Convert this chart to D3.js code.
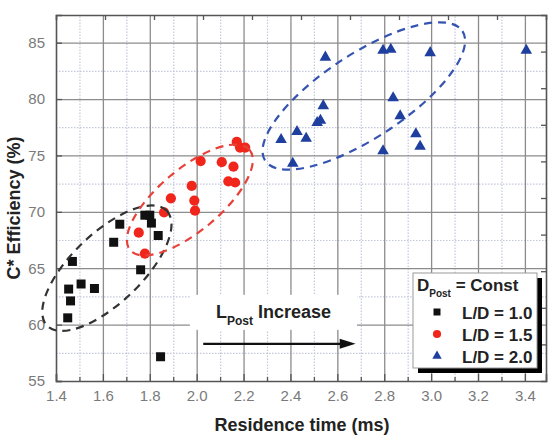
<!DOCTYPE html>
<html>
<head>
<meta charset="utf-8">
<script src="https://cdn.jsdelivr.net/npm/d3@7"></script>
<style>
  body { margin: 0; background: #fff; }
  svg { font-family: "Liberation Sans", Arial, sans-serif; }
</style>
</head>
<body>
<div class="chart"></div>
<script>
// L/D = 1.0 (squares)
const ld10Time = [1.47, 1.454, 1.507, 1.564, 1.462, 1.45, 1.646, 1.672, 1.779, 1.80, 1.807, 1.836, 1.761, 1.846];
const ld10Eff  = [65.6, 63.15, 63.6, 63.2, 62.1, 60.6, 67.3, 68.9, 69.7, 69.7, 69.0, 67.9, 64.86, 57.15];
// L/D = 1.5 (circles)
const ld15Time = [2.171, 2.185, 2.207, 2.017, 2.107, 2.157, 2.135, 2.164, 1.979, 1.89, 1.99, 1.993, 1.861, 1.753, 1.779];
const ld15Eff  = [76.2, 75.7, 75.7, 74.5, 74.4, 74.0, 72.7, 72.6, 72.3, 71.2, 71.0, 70.1, 69.95, 68.15, 66.3];
// L/D = 2.0 (triangles)
const ld20Time = [2.549, 2.795, 2.828, 2.996, 3.406, 2.54, 2.838, 2.528, 2.514, 2.868, 2.428, 2.36, 2.467, 2.935, 2.953, 2.41, 2.795];
const ld20Eff  = [83.7, 84.3, 84.4, 84.1, 84.3, 79.4, 80.1, 78.1, 77.9, 78.5, 77.1, 76.4, 76.5, 76.9, 75.8, 74.3, 75.4];

const xTicks = [1.4, 1.6, 1.8, 2.0, 2.2, 2.4, 2.6, 2.8, 3.0, 3.2, 3.4];
const xMinor = [1.5, 1.7, 1.9, 2.1, 2.3, 2.5, 2.7, 2.9, 3.1, 3.3];
const yTicks = [55, 60, 65, 70, 75, 80, 85];
const yMinor = [57.5, 62.5, 67.5, 72.5, 77.5, 82.5, 87.5];

const seriesNames = ["L/D = 1.0", "L/D = 1.5", "L/D = 2.0"];
const seriesColors = ["#111111", "#f0261c", "#1f3f9f"];

// dashed groupings: centre (data), semi axes (px), rotation (deg)
const groupCx = [1.617, 1.971, 2.713];
const groupCy = [65.0, 71.05, 80.27];
const groupRx = [83, 78, 118];
const groupRy = [35, 31, 42];
const groupAngle = [-43.8, -40, -33.3];
const groupColors = ["#333333", "#e8413a", "#3553b0"];

const series = [
  {name: seriesNames[0], sym: d3.symbolSquare, size: 81, legendSize: 49,
   points: ld10Time.map((t, i) => ({t: t, e: ld10Eff[i]}))},
  {name: seriesNames[1], sym: d3.symbolCircle, size: 82, legendSize: 52,
   points: ld15Time.map((t, i) => ({t: t, e: ld15Eff[i]}))},
  {name: seriesNames[2], sym: d3.symbolTriangle, size: 58, legendSize: 38,
   points: ld20Time.map((t, i) => ({t: t, e: ld20Eff[i]}))}
];

const totalWidth = 550;
const totalHeight = 438;
const margin = {top: 15, right: 4, bottom: 57, left: 56};
const width = totalWidth - margin.left - margin.right;
const height = totalHeight - margin.top - margin.bottom;

const svg = d3.select(".chart")
  .append("svg")
  .attr("width", totalWidth)
  .attr("height", totalHeight);

const g = svg.append("g")
  .attr("transform", "translate(" + margin.left + "," + margin.top + ")");

const x = d3.scaleLinear().domain([1.4, 3.49]).range([0, width]);
const y = d3.scaleLinear().domain([55, 87.45]).range([height, 0]);

// minor grid (dotted)
g.append("g")
  .attr("transform", "translate(0," + height + ")")
  .call(d3.axisBottom(x).tickValues(xMinor).tickSize(-height).tickFormat(""))
  .call(a => a.select(".domain").remove())
  .selectAll("line")
  .attr("stroke", "#c4c8dc").attr("stroke-width", 1.2).attr("stroke-dasharray", "1.5,1.5");

g.append("g")
  .call(d3.axisLeft(y).tickValues(yMinor.filter(v => v < 87)).tickSize(-width).tickFormat(""))
  .call(a => a.select(".domain").remove())
  .selectAll("line")
  .attr("stroke", "#c4c8dc").attr("stroke-width", 1.2).attr("stroke-dasharray", "1.5,1.5");

// major grid
g.append("g")
  .attr("transform", "translate(0," + height + ")")
  .call(d3.axisBottom(x).tickValues(xTicks.slice(1)).tickSize(-height).tickFormat(""))
  .call(a => a.select(".domain").remove())
  .selectAll("line")
  .attr("stroke", "#8c8c8c").attr("stroke-width", 1.3);

g.append("g")
  .call(d3.axisLeft(y).tickValues(yTicks.slice(1)).tickSize(-width).tickFormat(""))
  .call(a => a.select(".domain").remove())
  .selectAll("line")
  .attr("stroke", "#8c8c8c").attr("stroke-width", 1.3);

// white patch behind the annotation
const note = g.append("g");
const noteText = note.append("text")
  .attr("x", x(2.082))
  .attr("y", y(60.6))
  .attr("font-size", "18px")
  .attr("font-weight", "bold")
  .attr("fill", "#222");
noteText.append("tspan").text("L");
noteText.append("tspan").attr("font-size", "12px").attr("dy", 7).text("Post");
noteText.append("tspan").attr("dy", -7).text(" Increase");
const nb = noteText.node().getBBox();
note.insert("rect", "text")
  .attr("x", nb.x - 26)
  .attr("y", nb.y - 7)
  .attr("width", nb.width + 52)
  .attr("height", nb.height + 9)
  .attr("fill", "#fff");

// arrow
g.append("line")
  .attr("x1", x(2.028)).attr("x2", x(2.63))
  .attr("y1", y(58.3)).attr("y2", y(58.3))
  .attr("stroke", "#111").attr("stroke-width", 2.2);
g.append("path")
  .attr("d", d3.line()([[x(2.61), y(58.3) - 5], [x(2.678), y(58.3)], [x(2.61), y(58.3) + 5]]) + "Z")
  .attr("fill", "#111");

// frame axes
const xAxis = g.append("g")
  .attr("transform", "translate(0," + height + ")")
  .call(d3.axisBottom(x).tickValues(xTicks).tickFormat(d3.format(".1f")).tickSize(-7).tickPadding(9));
xAxis.selectAll("text").attr("font-size", "15px").attr("fill", "#7a7a7a").attr("font-family", "Liberation Sans, Arial");

g.append("g")
  .attr("transform", "translate(0," + height + ")")
  .call(d3.axisBottom(x).tickValues(xMinor).tickSize(-4).tickFormat(""))
  .call(a => a.select(".domain").remove());

const yAxis = g.append("g")
  .call(d3.axisLeft(y).tickValues(yTicks).tickSize(-6).tickPadding(11));
yAxis.selectAll("text").attr("font-size", "15px").attr("fill", "#7a7a7a").attr("font-family", "Liberation Sans, Arial");

// secondary top / right ticks
const xTop = d3.scaleLinear().domain([0, 10]).range([0, width]);
const yRight = d3.scaleLinear().domain([0, 10]).range([height, 0]);
g.append("g")
  .call(d3.axisTop(xTop).tickValues(d3.range(1, 10)).tickSize(-5).tickFormat(""));
g.append("g")
  .attr("transform", "translate(" + width + ",0)")
  .call(d3.axisRight(yRight).tickValues(d3.range(1, 10)).tickSize(-5).tickFormat(""));

g.selectAll(".domain").attr("stroke", "#555").attr("stroke-width", 1.6);
g.selectAll(".tick line").filter(function() { return !this.getAttribute("stroke-dasharray") && this.getAttribute("stroke") === "currentColor"; })
  .attr("stroke", "#555").attr("stroke-width", 1.3);

// points
series.forEach((s, si) => {
  g.selectAll(".pt" + si)
    .data(s.points)
    .enter()
    .append("path")
    .attr("class", "pt" + si)
    .attr("d", d3.symbol().type(s.sym).size(s.size))
    .attr("transform", d => "translate(" + x(d.t) + "," + y(d.e) + ")")
    .attr("fill", seriesColors[si]);
});

// dashed ellipses
g.selectAll(".grp")
  .data(groupCx)
  .enter()
  .append("ellipse")
  .attr("transform", (d, i) => "translate(" + x(d) + "," + y(groupCy[i]) + ") rotate(" + groupAngle[i] + ")")
  .attr("rx", (d, i) => groupRx[i])
  .attr("ry", (d, i) => groupRy[i])
  .attr("fill", "none")
  .attr("stroke", (d, i) => groupColors[i])
  .attr("stroke-width", 2.2)
  .attr("stroke-dasharray", "8,6");

// legend
const lg = g.append("g").attr("transform", "translate(357,258)");
lg.append("rect").attr("x", 5).attr("y", 5).attr("width", 124).attr("height", 95).attr("fill", "#000");
lg.append("rect").attr("x", 0).attr("y", 0).attr("width", 124).attr("height", 95)
  .attr("fill", "#fff").attr("stroke", "#999").attr("stroke-width", 1);
const lt = lg.append("text").attr("x", 4).attr("y", 18)
  .attr("font-size", "17px").attr("font-weight", "bold").attr("fill", "#222");
lt.append("tspan").text("D");
lt.append("tspan").attr("font-size", "10px").attr("dy", 6).text("Post");
lt.append("tspan").attr("dy", -6).text(" = Const");

series.forEach((s, i) => {
  const row = lg.append("g").attr("transform", "translate(0," + (40 + i * 22) + ")");
  row.append("path")
    .attr("d", d3.symbol().type(s.sym).size(s.legendSize))
    .attr("transform", "translate(24,-1)")
    .attr("fill", seriesColors[i]);
  row.append("text")
    .attr("x", 49).attr("y", 6)
    .attr("font-size", "17px").attr("font-weight", "bold").attr("fill", "#222")
    .text(s.name);
});

// axis titles
svg.append("text")
  .attr("x", 302).attr("y", 431)
  .attr("text-anchor", "middle")
  .attr("font-size", "18px").attr("font-weight", "bold").attr("fill", "#222")
  .text("Residence time (ms)");

svg.append("text")
  .attr("transform", "translate(20,208) rotate(-90)")
  .attr("text-anchor", "middle")
  .attr("font-size", "18px").attr("font-weight", "bold").attr("fill", "#222")
  .text("C* Efficiency (%)");
</script>
</body>
</html>
